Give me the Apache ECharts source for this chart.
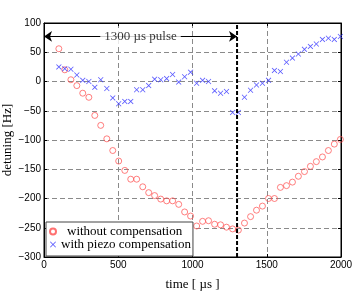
<!DOCTYPE html>
<html>
<head>
<meta charset="utf-8">
<script src="https://cdn.jsdelivr.net/npm/echarts@6/dist/echarts.min.js"></script>
<style>html,body{margin:0;padding:0;background:#fff}#c{width:354px;height:291px}</style>
</head>
<body>
<div id="c"></div>
<script>
const timeUs = [100,140,181,221,261,302,342,382,423,463,503,544,584,624,665,705,745,786,826,866,907,947,987,1028,1068,1108,1149,1189,1229,1270,1309,1350,1391,1431,1471,1512,1552,1592,1633,1673,1713,1754,1794,1834,1875,1915,1955,1996];
const withoutComp = [56,20,3,-7,-20,-27,-58,-75,-98,-118,-136,-152,-167,-167,-180,-190,-195,-201,-204,-204,-210,-223,-230,-247,-239,-238,-244,-245,-249,-252,-254,-242,-231,-220,-213,-200,-200,-181,-178,-172,-162,-154,-145,-137,-129,-118,-107,-99];
const withPiezo = [25,22,21,11,2,0,-10,3,-12,-28,-38,-34,-34,-14,-14,-7,4,3,5,12,-1,8,16,-3,2,0,-16,-20,-17,-53,-53,-27,-15,-6,-3,2,19,17,33,40,47,55,60,64,72,74,72,77];
const xTicks = [0,500,1000,1500,2000];
const yTicks = [-300,-250,-200,-150,-100,-50,0,50,100];
const pulseEnd = 1300;
const arrowY = 77;
const pulseLabel = '1300 µs pulse';
const seriesNames = ['without compensation','with piezo compensation'];

const pair = (xs, ys) => xs.map((x, i) => [x, ys[i]]);
const serif = 'Liberation Serif';
const sans = 'Liberation Sans';
const xCross = 'path://M0,1 L1,0 L5,4 L9,0 L10,1 L6,5 L10,9 L9,10 L5,6 L1,10 L0,9 L4,5 Z';
const fmt = v => String(v).replace('-','\u2212');

const chart = echarts.init(document.getElementById('c'), null, {renderer:'canvas'});
const axisCommon = {
  axisLine:{show:true,onZero:false,lineStyle:{color:'#000',width:1}},
  axisTick:{show:true,inside:true,length:3,lineStyle:{color:'#000'}}
};
chart.setOption({
  animation:false,
  grid:{left:44,right:13,top:23,bottom:34,containLabel:false,outerBoundsMode:'none',
    show:true,borderColor:'#000',borderWidth:1,backgroundColor:'#fff'},
  xAxis:[
    Object.assign({type:'value',min:xTicks[0],max:xTicks[xTicks.length-1],interval:500,
      axisLabel:{fontFamily:sans,fontSize:10,color:'#000',margin:3,showMinLabel:true,showMaxLabel:true,hideOverlap:false,
        formatter:fmt},
      splitLine:{show:true,lineStyle:{color:'#8a8a8a',type:[5,3],width:1}},
      name:'time [ µs ]',nameLocation:'middle',nameGap:21,nameMoveOverlap:false,
      nameTextStyle:{fontFamily:serif,fontSize:13,color:'#000'}}, axisCommon),
    Object.assign({type:'value',position:'top',min:xTicks[0],max:xTicks[xTicks.length-1],interval:500,
      axisLabel:{show:false},splitLine:{show:false}}, axisCommon)
  ],
  yAxis:[
    Object.assign({type:'value',min:yTicks[0],max:yTicks[yTicks.length-1],interval:50,
      axisLabel:{fontFamily:sans,fontSize:10,color:'#000',margin:3,showMinLabel:true,showMaxLabel:true,hideOverlap:false,
        formatter:fmt},
      splitLine:{show:true,lineStyle:{color:'#8a8a8a',type:[5,3],width:1}},
      name:'detuning [Hz]',nameLocation:'middle',nameGap:30,nameRotate:90,nameMoveOverlap:false,
      nameTextStyle:{fontFamily:serif,fontSize:13,color:'#000'}}, axisCommon),
    Object.assign({type:'value',position:'right',min:yTicks[0],max:yTicks[yTicks.length-1],interval:50,
      axisLabel:{show:false},splitLine:{show:false}}, axisCommon)
  ],
  legend:{
    data:seriesNames,orient:'vertical',left:46,top:222,
    padding:[3,2,5,3],itemGap:0,itemWidth:6,itemHeight:8,
    backgroundColor:'#fff',borderColor:'#444',borderWidth:1,borderRadius:0,
    textStyle:{fontFamily:serif,fontSize:13,color:'#000',lineHeight:12,
      rich:{p:{fontFamily:serif,fontSize:13,color:'#000',lineHeight:12,padding:[0,0,0,6]}}},
    formatter:n => n === seriesNames[0] ? '{p|' + n + '}' : n,
    z:10
  },
  series:[
    {name:seriesNames[0],type:'scatter',data:pair(timeUs,withoutComp),
      symbol:'circle',symbolSize:6,
      itemStyle:{color:'rgba(255,255,255,0)',borderColor:'#ff4d4d',borderWidth:0.9}},
    {name:seriesNames[1],type:'scatter',data:pair(timeUs,withPiezo),
      symbol:xCross,symbolSize:5.5,
      itemStyle:{color:'#3030ff'}},
    {name:'pulse end',type:'line',data:[[pulseEnd,yTicks[0]],[pulseEnd,yTicks[yTicks.length-1]]],
      symbol:'none',silent:true,
      lineStyle:{color:'#000',width:2,type:[4,2]},
      markLine:{silent:true,symbol:['arrow','arrow'],symbolSize:8,
        label:{show:false},
        lineStyle:{color:'#000',width:1,type:'solid'},
        data:[[{coord:[xTicks[0],arrowY]},{coord:[pulseEnd,arrowY]}]]}},
    {name:'pulse label',type:'scatter',data:[[pulseEnd/2,arrowY]],symbolSize:1,z:8,silent:true,
      itemStyle:{color:'rgba(0,0,0,0)'},
      label:{show:true,position:'inside',formatter:pulseLabel,fontFamily:serif,fontSize:13,color:'#000',
        backgroundColor:'#fff',padding:[1,4]}}
  ]
});
</script>
</body>
</html>
